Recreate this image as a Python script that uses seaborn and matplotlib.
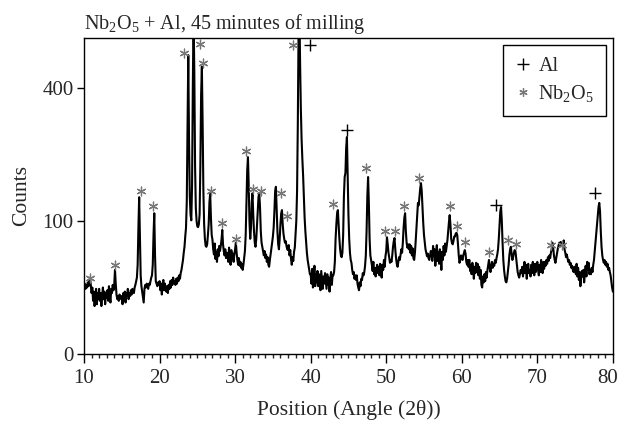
import numpy as np
import seaborn as sns
import matplotlib.pyplot as plt
import matplotlib.transforms as mtransforms
from matplotlib.lines import Line2D

# counts, one row per degree (10.0 ... 79.9), then 80.0
rows = [
    [26, 28, 24, 27, 25, 29, 26, 30, 33, 27],
    [21, 25, 16, 22, 13, 19, 24, 14, 21, 17],
    [24, 16, 21, 13, 19, 25, 17, 22, 14, 21],
    [18, 23, 16, 26, 19, 15, 24, 21, 27, 23],
    [27, 40, 28, 20, 17, 19, 16, 20, 18, 17],
    [19, 14, 21, 17, 22, 15, 21, 19, 24, 17],
    [21, 19, 23, 20, 24, 22, 21, 25, 27, 30],
    [33, 45, 90, 139, 75, 35, 26, 22, 18, 15],
    [24, 27, 25, 28, 26, 24, 28, 27, 30, 33],
    [35, 45, 80, 112, 55, 30, 28, 26, 29, 27],
    [30, 23, 28, 20, 27, 31, 23, 28, 25, 22],
    [26, 21, 27, 24, 30, 25, 31, 27, 33, 29],
    [30, 27, 32, 28, 33, 30, 35, 32, 37, 40],
    [45, 50, 58, 65, 78, 90, 130, 300, 505, 260],
    [140, 110, 101, 160, 400, 650, 450, 200, 120, 100],
    [92, 91, 95, 110, 200, 380, 467, 300, 150, 95],
    [75, 66, 65, 68, 80, 95, 130, 146, 105, 80],
    [74, 62, 56, 69, 51, 59, 48, 62, 54, 66],
    [60, 66, 74, 87, 68, 60, 55, 62, 52, 58],
    [56, 48, 64, 53, 45, 61, 51, 57, 48, 56],
    [62, 70, 58, 50, 45, 52, 44, 48, 42, 46],
    [40, 45, 52, 60, 80, 130, 190, 219, 160, 100],
    [75, 90, 130, 146, 110, 85, 70, 65, 75, 95],
    [120, 140, 146, 120, 85, 70, 65, 60, 55, 60],
    [52, 56, 48, 53, 45, 43, 50, 56, 62, 70],
    [78, 90, 115, 150, 158, 120, 85, 68, 62, 75],
    [95, 112, 117, 95, 82, 75, 70, 72, 66, 62],
    [61, 67, 55, 61, 51, 45, 53, 49, 59, 64],
    [80, 100, 150, 300, 600, 700, 480, 340, 260, 215],
    [180, 140, 105, 85, 70, 58, 50, 45, 40, 36],
    [36, 28, 41, 25, 33, 44, 26, 36, 29, 39],
    [26, 36, 30, 23, 39, 31, 24, 34, 28, 37],
    [30, 24, 36, 27, 33, 22, 32, 38, 27, 35],
    [35, 38, 48, 75, 95, 112, 117, 95, 75, 62],
    [55, 53, 58, 80, 140, 177, 185, 240, 266, 180],
    [110, 75, 58, 50, 47, 40, 36, 38, 32, 35],
    [31, 35, 28, 25, 23, 29, 26, 32, 31, 37],
    [35, 38, 44, 55, 85, 140, 177, 130, 75, 55],
    [50, 45, 39, 48, 36, 42, 34, 40, 45, 37],
    [43, 35, 46, 38, 33, 45, 40, 50, 43, 54],
    [60, 77, 68, 58, 52, 47, 50, 48, 55, 65],
    [72, 76, 62, 52, 46, 43, 48, 53, 50, 56],
    [62, 58, 70, 90, 105, 112, 85, 70, 64, 68],
    [62, 68, 58, 66, 55, 63, 52, 50, 58, 72],
    [90, 110, 129, 125, 140, 155, 165, 150, 120, 97],
    [80, 70, 62, 58, 54, 57, 52, 50, 55, 60],
    [59, 49, 66, 54, 62, 44, 57, 67, 49, 59],
    [46, 62, 53, 40, 59, 50, 66, 55, 69, 59],
    [66, 73, 85, 98, 109, 95, 75, 70, 68, 72],
    [78, 78, 82, 83, 80, 68, 55, 47, 50, 55],
    [52, 50, 55, 58, 61, 57, 48, 45, 50, 43],
    [50, 39, 45, 36, 47, 41, 32, 43, 37, 47],
    [38, 46, 35, 43, 32, 40, 27, 25, 34, 29],
    [36, 30, 38, 33, 40, 45, 50, 42, 38, 44],
    [48, 42, 46, 44, 50, 47, 52, 56, 62, 75],
    [95, 115, 122, 100, 70, 50, 40, 34, 30, 29],
    [32, 38, 45, 55, 62, 65, 56, 50, 53, 58],
    [61, 60, 52, 45, 38, 35, 33, 36, 40, 37],
    [43, 34, 40, 48, 37, 45, 32, 42, 46, 37],
    [40, 34, 45, 37, 48, 40, 35, 46, 38, 43],
    [48, 40, 35, 45, 38, 50, 43, 37, 48, 41],
    [48, 44, 50, 46, 53, 49, 55, 52, 58, 62],
    [70, 64, 55, 50, 47, 52, 58, 62, 66, 70],
    [68, 71, 66, 70, 70, 73, 62, 58, 53, 56],
    [52, 48, 50, 45, 47, 42, 44, 40, 38, 43],
    [41, 36, 46, 34, 42, 31, 38, 26, 33, 39],
    [34, 40, 29, 38, 44, 34, 48, 40, 47, 36],
    [40, 36, 42, 38, 45, 50, 60, 70, 82, 95],
    [110, 122, 129, 115, 85, 65, 55, 50, 47, 50],
    [45, 48, 43, 46, 40, 42, 38, 35, 30, 25],
]
last_count = 22

# peak labels
nb_x = [10.8, 14.1, 17.5, 19.17, 23.23, 25.35, 25.79, 26.8, 28.3, 30.07,
        31.44, 32.32, 33.42, 36.07, 36.86, 37.6, 42.99, 47.36, 49.8, 51.2,
        52.35, 54.37, 58.39, 59.4, 60.46, 63.6, 66.1, 67.2, 71.75, 73.3]
nb_y = [33, 45, 150, 124, 511, 543, 478, 150, 97, 75,
        234, 153, 150, 147, 108, 540, 128, 196, 85, 85,
        124, 175, 123, 92, 71, 59, 74, 69, 67, 67]
al_x = [39.95, 44.8, 64.56, 77.6]
al_y = [540, 284, 126, 146]

counts = [c for r in rows for c in r] + [last_count]
two_theta = np.round(10 + 0.1 * np.arange(len(counts)), 1)

sns.set_style('ticks')
plt.rcParams['font.family'] = ['Liberation Serif', 'DejaVu Serif']
plt.rcParams['mathtext.default'] = 'regular'

fig = plt.figure(figsize=(6.2, 4.25), dpi=100)
ax = fig.add_axes([0.1355, 0.167, 0.853, 0.744])

sns.lineplot(x=two_theta, y=counts, ax=ax, color='black', lw=1.5,
             estimator=None, sort=False)

star = (6, 2, 0)
sns.scatterplot(x=nb_x, y=nb_y, ax=ax, marker=star, color='#777777', s=40,
                linewidth=0.9, zorder=3)
sns.scatterplot(x=al_x, y=al_y, ax=ax, marker='+', color='black', s=75,
                linewidth=1.0, zorder=3)

ax.set_yscale('function', functions=(lambda v: np.sqrt(np.clip(v, 0, None)),
                                     lambda v: np.square(v)))
ax.set_xlim(10, 80)
ax.set_ylim(0, 565)
ax.set_xticks(range(10, 81, 10))
ax.set_yticks([0, 100, 400])
ax.set_yticklabels(['0', '100', '400'])
ax.minorticks_on()
ax.set_xticks(range(10, 81), minor=True)
ax.yaxis.set_minor_locator(plt.NullLocator())
ax.tick_params(axis='both', which='major', labelsize=15, width=1, color='black')
ax.tick_params(axis='x', which='major', length=6.5, direction='out', pad=4)
ax.tick_params(axis='x', which='minor', length=3, width=1, direction='out')
ax.tick_params(axis='y', which='major', length=5, direction='out', pad=2.5)
for s in ax.spines.values():
    s.set_color('black')
    s.set_linewidth(1)

# pull the last x label in a little so it stays on the canvas
last = ax.get_xticklabels()[-1]
last.set_transform(last.get_transform() +
                   mtransforms.ScaledTranslation(-0.05, 0, fig.dpi_scale_trans))

ax.set_xlabel('Position (Angle (2θ))', fontsize=15.5, labelpad=9)
ax.set_ylabel('Counts', fontsize=15.5, labelpad=8)
ax.set_title(r'Nb$_2$O$_5$ + Al, 45 minutes of milling', loc='left',
             fontsize=14.5, pad=6)

handles = [Line2D([], [], ls='', marker='+', color='black', ms=9, mew=1.0),
           Line2D([], [], ls='', marker=star, color='#777777', ms=6, mew=0.9)]
leg = ax.legend(handles, ['Al', r'Nb$_2$O$_5$'], loc='upper right',
                bbox_to_anchor=(0.987, 0.978), borderaxespad=0, fontsize=14.5,
                frameon=True, fancybox=False, framealpha=1, edgecolor='black',
                handlelength=0.8, handletextpad=0.35, labelspacing=0.35,
                borderpad=0.6)
leg.get_frame().set_linewidth(1)

plt.savefig('out.png', dpi=100)
